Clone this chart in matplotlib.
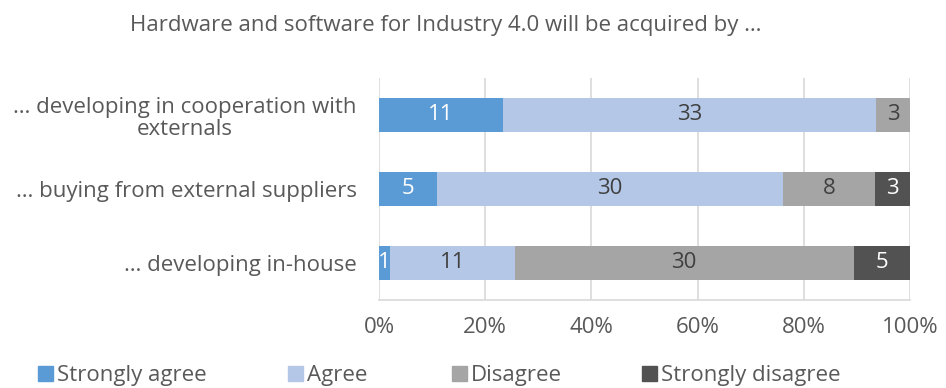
import numpy as np
import matplotlib.pyplot as plt
from matplotlib.patches import Rectangle

plt.rcParams['font.family'] = ['Open Sans', 'DejaVu Sans']

title = 'Hardware and software for Industry 4.0 will be acquired by \u2026'
categories = ['\u2026 developing in-house',
              '\u2026 buying from external suppliers',
              '\u2026 developing in cooperation with\nexternals']
series = ['Strongly agree', 'Agree', 'Disagree', 'Strongly disagree']
strongly_agree = [1, 5, 11]
agree = [11, 30, 33]
disagree = [30, 8, 3]
strongly_disagree = [5, 3, 0]
tick_labels = ['0%', '20%', '40%', '60%', '80%', '100%']

colors = ['#5B9BD5', '#B4C7E7', '#A5A5A5', '#525252']
label_colors = ['white', '#404040', '#404040', 'white']
text_col = '#595959'
fs = 16

counts = np.array([strongly_agree, agree, disagree, strongly_disagree], dtype=float)
totals = counts.sum(axis=0)
shares = counts / totals

W, H = 946, 388
fig = plt.figure(figsize=(W / 100, H / 100), dpi=100)
ax = fig.add_axes([379 / W, 1 - 300 / H, 531 / W, 222 / H])

y = np.arange(len(categories))
left = np.zeros(len(categories))
for i, name in enumerate(series):
    ax.barh(y, shares[i], left=left, height=0.47, color=colors[i], label=name, zorder=2)
    for j in range(len(categories)):
        if counts[i, j] > 0:
            ax.text(left[j] + shares[i, j] / 2, y[j], f'{int(counts[i, j])}',
                    ha='center', va='center', fontsize=fs, color=label_colors[i], zorder=3)
    left += shares[i]

ax.set_xlim(0, 1)
ax.set_ylim(-0.5, 2.5)
ax.set_xticks(np.linspace(0, 1, 6))
ax.set_xticklabels(tick_labels)
ax.set_yticks(y)
ax.set_yticklabels(categories, ha='right', linespacing=1.1, multialignment='center')
ax.tick_params(axis='both', length=0, labelsize=fs, labelcolor=text_col)
ax.tick_params(axis='x', pad=12)
ax.tick_params(axis='y', pad=16)
ax.grid(axis='x', color='#D9D9D9', linewidth=1.2, zorder=0)
for s in ['top', 'left', 'right']:
    ax.spines[s].set_visible(False)
ax.spines['bottom'].set_color('#D9D9D9')
ax.spines['bottom'].set_linewidth(1.2)

fig.text(446 / W, 1 - 25 / H, title, ha='center', va='center', fontsize=fs, color=text_col)

# legend drawn by hand so each entry sits where it should
legend_x = [38, 288, 452, 642]
legend_y = 374
sq = 15
for x0, name, c in zip(legend_x, series, colors):
    fig.add_artist(Rectangle((x0 / W, 1 - (legend_y - 1 + sq / 2) / H), sq / W, sq / H,
                             transform=fig.transFigure, color=c))
    fig.text((x0 + sq + 4) / W, 1 - (legend_y + 1) / H, name, ha='left', va='center',
             fontsize=fs, color=text_col)

fig.savefig('out.png', dpi=100)
